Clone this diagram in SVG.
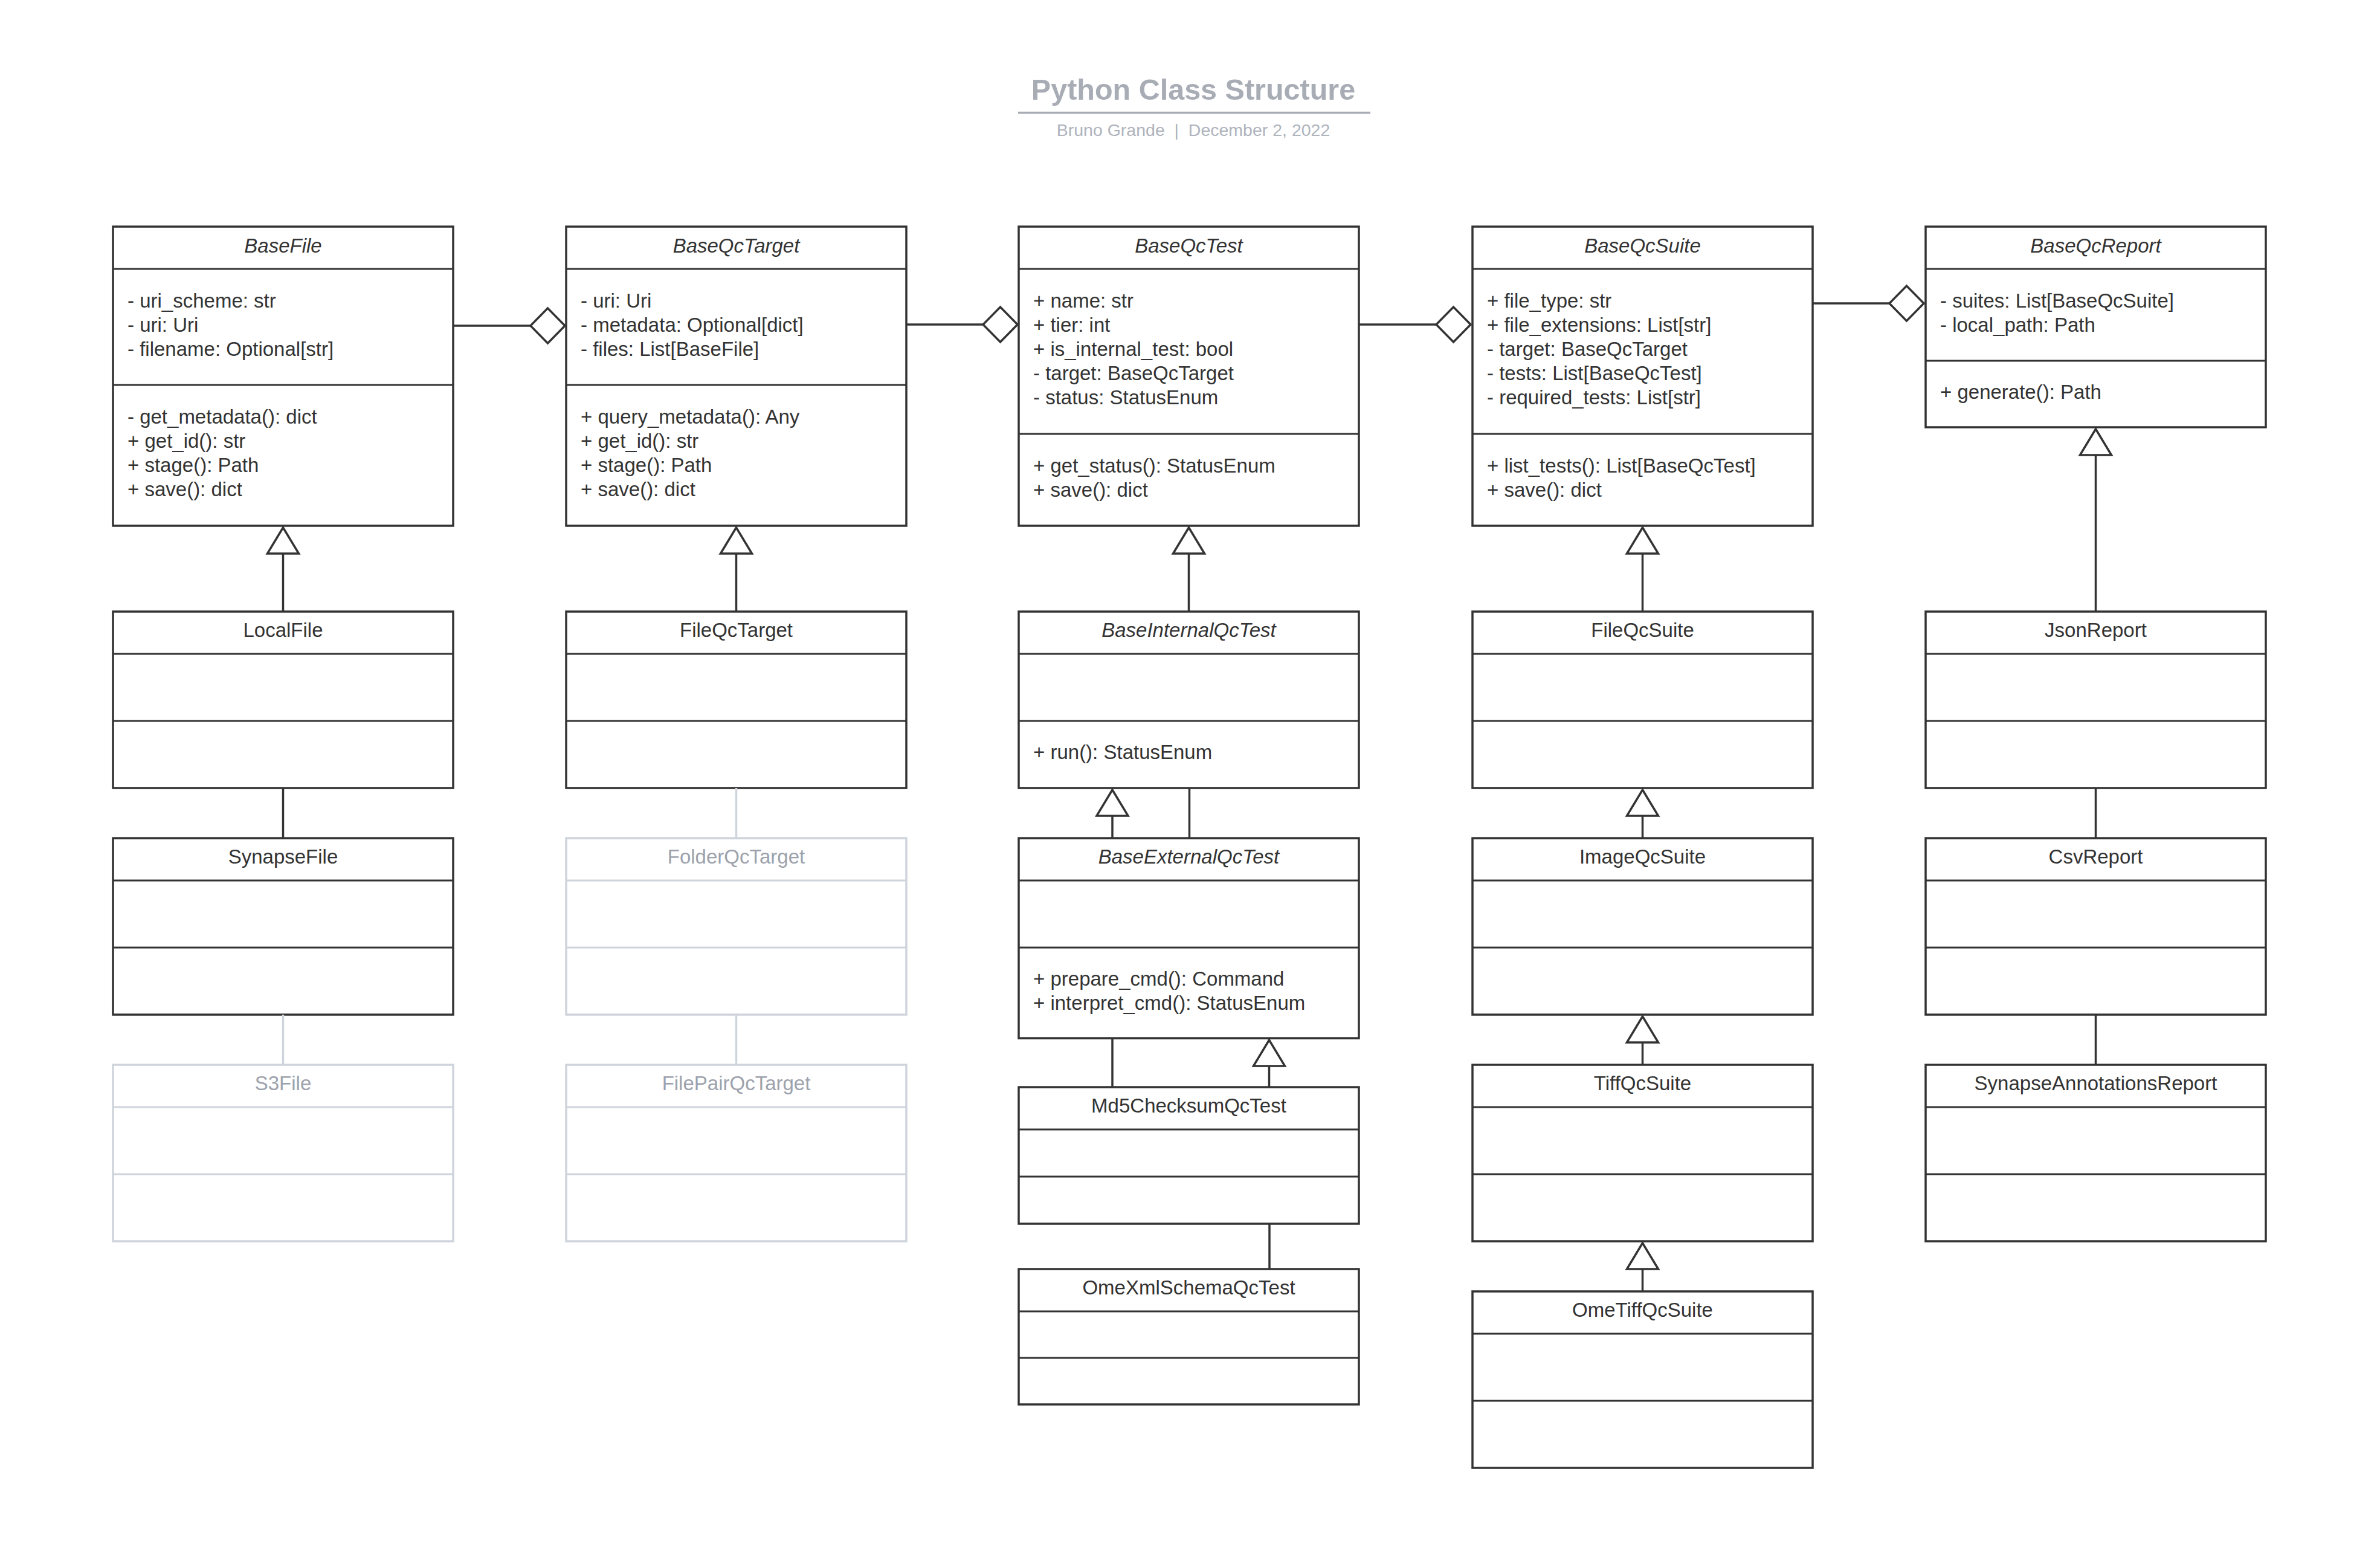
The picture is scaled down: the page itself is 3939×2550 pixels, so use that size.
<svg xmlns="http://www.w3.org/2000/svg" xmlns:xlink="http://www.w3.org/1999/xlink" width="3939" height="2550" viewBox="0 0 3939 2550">
<style>
.bg{fill:#ffffff}
.box{fill:#ffffff;stroke:#333333;stroke-width:3.5}
.dv{stroke:#333333;stroke-width:3}
.gbox{fill:#ffffff;stroke:#cfd4dc;stroke-width:3.5}
.gdv{stroke:#cfd4dc;stroke-width:3}
.t{font-family:"Liberation Sans",Arial,sans-serif;font-size:33px;fill:#333333}
.c{text-anchor:middle}
.i{font-style:italic}
.gt{fill:#9ca2ac}
.ln{stroke:#333333;stroke-width:3.5;fill:none}
.gln{stroke:#cfd4dc;stroke-width:3.5;fill:none}
.hd{fill:#ffffff;stroke:#333333;stroke-width:3.5;stroke-linejoin:miter}
.title{font-family:"Liberation Sans",Arial,sans-serif;font-size:48.5px;font-weight:bold;fill:#a7acb5;text-anchor:middle}
.sub{font-family:"Liberation Sans",Arial,sans-serif;font-size:28.5px;fill:#aeb3bc;text-anchor:middle}
</style>
<defs>
<path id="gen" d="M0,0 L26,43 L-26,43 Z"/>
<path id="agg" d="M0,0 L-28.5,-29 L-57,0 L-28.5,29 Z"/>
</defs>
<rect class="bg" x="0" y="0" width="3939" height="2550"/>

<g id="title">
<text class="title" x="1975" y="165">Python Class Structure</text>
<line x1="1685" y1="186.5" x2="2268" y2="186.5" stroke="#a7acb5" stroke-width="3.5"/>
<text class="sub" x="1975" y="225" xml:space="preserve">Bruno Grande  |  December 2, 2022</text>
</g>

<g id="BaseFile">
<rect class="box" x="187" y="375" width="563" height="495"/>
<line class="dv" x1="187" y1="445" x2="750" y2="445"/>
<line class="dv" x1="187" y1="637" x2="750" y2="637"/>
<text class="t c i" x="468.5" y="418">BaseFile</text>
<text class="t" x="211" y="508.5">- uri_scheme: str</text>
<text class="t" x="211" y="548.5">- uri: Uri</text>
<text class="t" x="211" y="588.5">- filename: Optional[str]</text>
<text class="t" x="211" y="701">- get_metadata(): dict</text>
<text class="t" x="211" y="741">+ get_id(): str</text>
<text class="t" x="211" y="781">+ stage(): Path</text>
<text class="t" x="211" y="821">+ save(): dict</text>
</g>

<g id="BaseQcTarget">
<rect class="box" x="937" y="375" width="563" height="495"/>
<line class="dv" x1="937" y1="445" x2="1500" y2="445"/>
<line class="dv" x1="937" y1="637" x2="1500" y2="637"/>
<text class="t c i" x="1218.5" y="418">BaseQcTarget</text>
<text class="t" x="961" y="508.5">- uri: Uri</text>
<text class="t" x="961" y="548.5">- metadata: Optional[dict]</text>
<text class="t" x="961" y="588.5">- files: List[BaseFile]</text>
<text class="t" x="961" y="701">+ query_metadata(): Any</text>
<text class="t" x="961" y="741">+ get_id(): str</text>
<text class="t" x="961" y="781">+ stage(): Path</text>
<text class="t" x="961" y="821">+ save(): dict</text>
</g>

<g id="BaseQcTest">
<rect class="box" x="1686" y="375" width="563" height="495"/>
<line class="dv" x1="1686" y1="445" x2="2249" y2="445"/>
<line class="dv" x1="1686" y1="718" x2="2249" y2="718"/>
<text class="t c i" x="1967.5" y="418">BaseQcTest</text>
<text class="t" x="1710" y="509">+ name: str</text>
<text class="t" x="1710" y="549">+ tier: int</text>
<text class="t" x="1710" y="589">+ is_internal_test: bool</text>
<text class="t" x="1710" y="629">- target: BaseQcTarget</text>
<text class="t" x="1710" y="669">- status: StatusEnum</text>
<text class="t" x="1710" y="781.5">+ get_status(): StatusEnum</text>
<text class="t" x="1710" y="821.5">+ save(): dict</text>
</g>

<g id="BaseQcSuite">
<rect class="box" x="2437" y="375" width="563" height="495"/>
<line class="dv" x1="2437" y1="445" x2="3000" y2="445"/>
<line class="dv" x1="2437" y1="718" x2="3000" y2="718"/>
<text class="t c i" x="2718.5" y="418">BaseQcSuite</text>
<text class="t" x="2461" y="509">+ file_type: str</text>
<text class="t" x="2461" y="549">+ file_extensions: List[str]</text>
<text class="t" x="2461" y="589">- target: BaseQcTarget</text>
<text class="t" x="2461" y="629">- tests: List[BaseQcTest]</text>
<text class="t" x="2461" y="669">- required_tests: List[str]</text>
<text class="t" x="2461" y="781.5">+ list_tests(): List[BaseQcTest]</text>
<text class="t" x="2461" y="821.5">+ save(): dict</text>
</g>

<g id="BaseQcReport">
<rect class="box" x="3187" y="375" width="563" height="332"/>
<line class="dv" x1="3187" y1="445" x2="3750" y2="445"/>
<line class="dv" x1="3187" y1="597" x2="3750" y2="597"/>
<text class="t c i" x="3468.5" y="418">BaseQcReport</text>
<text class="t" x="3211" y="508.5">- suites: List[BaseQcSuite]</text>
<text class="t" x="3211" y="548.5">- local_path: Path</text>
<text class="t" x="3211" y="659.5">+ generate(): Path</text>
</g>

<g id="LocalFile">
<rect class="box" x="187" y="1012" width="563" height="292"/>
<line class="dv" x1="187" y1="1082" x2="750" y2="1082"/>
<line class="dv" x1="187" y1="1193" x2="750" y2="1193"/>
<text class="t c" x="468.5" y="1054">LocalFile</text>
</g>

<g id="FileQcTarget">
<rect class="box" x="937" y="1012" width="563" height="292"/>
<line class="dv" x1="937" y1="1082" x2="1500" y2="1082"/>
<line class="dv" x1="937" y1="1193" x2="1500" y2="1193"/>
<text class="t c" x="1218.5" y="1054">FileQcTarget</text>
</g>

<g id="BaseInternalQcTest">
<rect class="box" x="1686" y="1012" width="563" height="292"/>
<line class="dv" x1="1686" y1="1082" x2="2249" y2="1082"/>
<line class="dv" x1="1686" y1="1193" x2="2249" y2="1193"/>
<text class="t c i" x="1967.5" y="1054">BaseInternalQcTest</text>
<text class="t" x="1710" y="1256">+ run(): StatusEnum</text>
</g>

<g id="FileQcSuite">
<rect class="box" x="2437" y="1012" width="563" height="292"/>
<line class="dv" x1="2437" y1="1082" x2="3000" y2="1082"/>
<line class="dv" x1="2437" y1="1193" x2="3000" y2="1193"/>
<text class="t c" x="2718.5" y="1054">FileQcSuite</text>
</g>

<g id="JsonReport">
<rect class="box" x="3187" y="1012" width="563" height="292"/>
<line class="dv" x1="3187" y1="1082" x2="3750" y2="1082"/>
<line class="dv" x1="3187" y1="1193" x2="3750" y2="1193"/>
<text class="t c" x="3468.5" y="1054">JsonReport</text>
</g>

<g id="SynapseFile">
<rect class="box" x="187" y="1387" width="563" height="292"/>
<line class="dv" x1="187" y1="1457" x2="750" y2="1457"/>
<line class="dv" x1="187" y1="1568" x2="750" y2="1568"/>
<text class="t c" x="468.5" y="1429">SynapseFile</text>
</g>

<g id="FolderQcTarget">
<rect class="gbox" x="937" y="1387" width="563" height="292"/>
<line class="gdv" x1="937" y1="1457" x2="1500" y2="1457"/>
<line class="gdv" x1="937" y1="1568" x2="1500" y2="1568"/>
<text class="t c gt" x="1218.5" y="1429">FolderQcTarget</text>
</g>

<g id="BaseExternalQcTest">
<rect class="box" x="1686" y="1387" width="563" height="331"/>
<line class="dv" x1="1686" y1="1457" x2="2249" y2="1457"/>
<line class="dv" x1="1686" y1="1568" x2="2249" y2="1568"/>
<text class="t c i" x="1967.5" y="1429">BaseExternalQcTest</text>
<text class="t" x="1710" y="1630.5">+ prepare_cmd(): Command</text>
<text class="t" x="1710" y="1670.5">+ interpret_cmd(): StatusEnum</text>
</g>

<g id="ImageQcSuite">
<rect class="box" x="2437" y="1387" width="563" height="292"/>
<line class="dv" x1="2437" y1="1457" x2="3000" y2="1457"/>
<line class="dv" x1="2437" y1="1568" x2="3000" y2="1568"/>
<text class="t c" x="2718.5" y="1429">ImageQcSuite</text>
</g>

<g id="CsvReport">
<rect class="box" x="3187" y="1387" width="563" height="292"/>
<line class="dv" x1="3187" y1="1457" x2="3750" y2="1457"/>
<line class="dv" x1="3187" y1="1568" x2="3750" y2="1568"/>
<text class="t c" x="3468.5" y="1429">CsvReport</text>
</g>

<g id="S3File">
<rect class="gbox" x="187" y="1762" width="563" height="292"/>
<line class="gdv" x1="187" y1="1832" x2="750" y2="1832"/>
<line class="gdv" x1="187" y1="1943" x2="750" y2="1943"/>
<text class="t c gt" x="468.5" y="1804">S3File</text>
</g>

<g id="FilePairQcTarget">
<rect class="gbox" x="937" y="1762" width="563" height="292"/>
<line class="gdv" x1="937" y1="1832" x2="1500" y2="1832"/>
<line class="gdv" x1="937" y1="1943" x2="1500" y2="1943"/>
<text class="t c gt" x="1218.5" y="1804">FilePairQcTarget</text>
</g>

<g id="Md5ChecksumQcTest">
<rect class="box" x="1686" y="1799" width="563" height="226"/>
<line class="dv" x1="1686" y1="1869" x2="2249" y2="1869"/>
<line class="dv" x1="1686" y1="1947" x2="2249" y2="1947"/>
<text class="t c" x="1967.5" y="1841">Md5ChecksumQcTest</text>
</g>

<g id="TiffQcSuite">
<rect class="box" x="2437" y="1762" width="563" height="292"/>
<line class="dv" x1="2437" y1="1832" x2="3000" y2="1832"/>
<line class="dv" x1="2437" y1="1943" x2="3000" y2="1943"/>
<text class="t c" x="2718.5" y="1804">TiffQcSuite</text>
</g>

<g id="SynapseAnnotationsReport">
<rect class="box" x="3187" y="1762" width="563" height="292"/>
<line class="dv" x1="3187" y1="1832" x2="3750" y2="1832"/>
<line class="dv" x1="3187" y1="1943" x2="3750" y2="1943"/>
<text class="t c" x="3468.5" y="1804">SynapseAnnotationsReport</text>
</g>

<g id="OmeXmlSchemaQcTest">
<rect class="box" x="1686" y="2100" width="563" height="224"/>
<line class="dv" x1="1686" y1="2170" x2="2249" y2="2170"/>
<line class="dv" x1="1686" y1="2247" x2="2249" y2="2247"/>
<text class="t c" x="1967.5" y="2142">OmeXmlSchemaQcTest</text>
</g>

<g id="OmeTiffQcSuite">
<rect class="box" x="2437" y="2137" width="563" height="292"/>
<line class="dv" x1="2437" y1="2207" x2="3000" y2="2207"/>
<line class="dv" x1="2437" y1="2318" x2="3000" y2="2318"/>
<text class="t c" x="2718.5" y="2179">OmeTiffQcSuite</text>
</g>

<g id="connectors">
<!-- aggregations -->
<line class="ln" x1="750" y1="539" x2="880" y2="539"/>
<use href="#agg" class="hd" x="935" y="539"/>
<line class="ln" x1="1500" y1="537" x2="1630" y2="537"/>
<use href="#agg" class="hd" x="1684" y="537"/>
<line class="ln" x1="2249" y1="537" x2="2378" y2="537"/>
<use href="#agg" class="hd" x="2434" y="537"/>
<line class="ln" x1="3000" y1="502" x2="3128" y2="502"/>
<use href="#agg" class="hd" x="3184" y="502"/>
<!-- generalizations top row -->
<line class="ln" x1="468.5" y1="916" x2="468.5" y2="1012"/>
<use href="#gen" class="hd" x="468.5" y="873"/>
<line class="ln" x1="1218.5" y1="916" x2="1218.5" y2="1012"/>
<use href="#gen" class="hd" x="1218.5" y="873"/>
<line class="ln" x1="1967.5" y1="916" x2="1967.5" y2="1012"/>
<use href="#gen" class="hd" x="1967.5" y="873"/>
<line class="ln" x1="2718.5" y1="916" x2="2718.5" y2="1012"/>
<use href="#gen" class="hd" x="2718.5" y="873"/>
<line class="ln" x1="3468.5" y1="753" x2="3468.5" y2="1012"/>
<use href="#gen" class="hd" x="3468.5" y="710"/>
<!-- column 1 -->
<line class="ln" x1="468.5" y1="1304" x2="468.5" y2="1387"/>
<line class="gln" x1="468.5" y1="1679" x2="468.5" y2="1762"/>
<!-- column 2 -->
<line class="gln" x1="1218.5" y1="1304" x2="1218.5" y2="1387"/>
<line class="gln" x1="1218.5" y1="1679" x2="1218.5" y2="1762"/>
<!-- column 3 -->
<line class="ln" x1="1841" y1="1350" x2="1841" y2="1387"/>
<use href="#gen" class="hd" x="1841" y="1307"/>
<line class="ln" x1="1968.5" y1="1304" x2="1968.5" y2="1387"/>
<line class="ln" x1="1841" y1="1718" x2="1841" y2="1799"/>
<line class="ln" x1="2100.5" y1="1764" x2="2100.5" y2="1799"/>
<use href="#gen" class="hd" x="2100.5" y="1721"/>
<line class="ln" x1="2101" y1="2025" x2="2101" y2="2100"/>
<!-- column 4 -->
<line class="ln" x1="2718.5" y1="1350" x2="2718.5" y2="1387"/>
<use href="#gen" class="hd" x="2718.5" y="1307"/>
<line class="ln" x1="2718.5" y1="1725" x2="2718.5" y2="1762"/>
<use href="#gen" class="hd" x="2718.5" y="1682"/>
<line class="ln" x1="2718.5" y1="2100" x2="2718.5" y2="2137"/>
<use href="#gen" class="hd" x="2718.5" y="2057"/>
<!-- column 5 -->
<line class="ln" x1="3468.5" y1="1304" x2="3468.5" y2="1387"/>
<line class="ln" x1="3468.5" y1="1679" x2="3468.5" y2="1762"/>
</g>
</svg>
